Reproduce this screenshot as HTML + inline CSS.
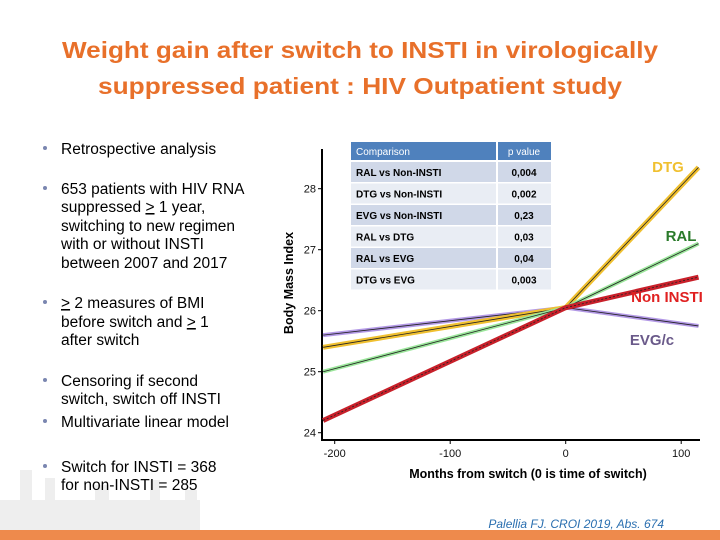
<!DOCTYPE html>
<html><head><meta charset="utf-8"><style>
html,body{margin:0;padding:0;background:#fff;}
svg{display:block;font-family:"Liberation Sans",sans-serif;}
</style></head><body>
<svg width="720" height="540" viewBox="0 0 720 540">
<rect x="0" y="0" width="720" height="540" fill="#fff"/>
<g fill="#eeeeee">
<rect x="0" y="500" width="200" height="30"/><rect x="20" y="470" width="12" height="60"/><rect x="45" y="478" width="10" height="52"/><rect x="95" y="485" width="14" height="45"/><rect x="150" y="480" width="10" height="50"/><rect x="185" y="490" width="12" height="40"/>
</g>
<rect x="0" y="530" width="720" height="10" fill="#ee8a4c"/>
<g fill="#e8702a" font-weight="bold" font-size="23" text-anchor="middle">
<text x="360" y="58" textLength="596" lengthAdjust="spacingAndGlyphs">Weight gain after switch to INSTI in virologically</text>
<text x="360" y="94" textLength="524" lengthAdjust="spacingAndGlyphs">suppressed patient : HIV Outpatient study</text>
</g>
<g font-size="15.5" fill="#000">
<g fill="#7a86b0"><circle cx="45" cy="148" r="2"/><circle cx="45" cy="188" r="2"/><circle cx="45" cy="302" r="2"/><circle cx="45" cy="380" r="2"/><circle cx="45" cy="421" r="2"/><circle cx="45" cy="466" r="2"/></g>
<text x="61" y="154">Retrospective analysis</text>
<text x="61" y="194">653 patients with HIV RNA</text>
<text x="61" y="212">suppressed <tspan text-decoration="underline">&gt;</tspan> 1 year,</text>
<text x="61" y="231">switching to new regimen</text>
<text x="61" y="249">with or without INSTI</text>
<text x="61" y="268">between 2007 and 2017</text>
<text x="61" y="308"><tspan text-decoration="underline">&gt;</tspan> 2 measures of BMI</text>
<text x="61" y="327">before switch and <tspan text-decoration="underline">&gt;</tspan> 1</text>
<text x="61" y="345">after switch</text>
<text x="61" y="386">Censoring if second</text>
<text x="61" y="404">switch, switch off INSTI</text>
<text x="61" y="427">Multivariate linear model</text>
<text x="61" y="472">Switch for INSTI = 368</text>
<text x="61" y="490">for non-INSTI = 285</text>
</g>
<g id="chart"></g>
<text x="664" y="528" font-size="12" font-style="italic" fill="#2a6fb0" text-anchor="end">Palellia FJ. CROI 2019, Abs. 674</text>
</svg>
<script>
const xTicks=[-200,-100,0,100];
const yTicks=[24,25,26,27,28];
const monthsPts=[-210,0,115];
const seriesNames=['EVG/c','DTG','RAL','Non INSTI'];
const evgVals=[25.6,26.05,25.75];
const dtgVals=[25.4,26.05,28.35];
const ralVals=[25.0,26.05,27.1];
const nonVals=[24.2,26.05,26.55];
const compLabels=['RAL vs Non-INSTI','DTG vs Non-INSTI','EVG vs Non-INSTI','RAL vs DTG','RAL vs EVG','DTG vs EVG'];
const pValues=['0,004','0,002','0,23','0,03','0,04','0,003'];

const NS='http://www.w3.org/2000/svg';
const g=document.getElementById('chart');
function X(v){return 565.7+(v/100)*115.5;}
function Y(v){return 310.7-(v-26)*61;}
function mk(t,a,p){const e=document.createElementNS(NS,t);for(const k in a)e.setAttribute(k,a[k]);(p||g).appendChild(e);return e;}
let ax=mk('line',{x1:322,y1:Y(28.65),x2:322,y2:440,stroke:'#000','stroke-width':2});


let bx=mk('line',{x1:321,y1:440,x2:700,y2:440,stroke:'#000','stroke-width':2});


yTicks.forEach(t=>{
 mk('line',{x1:318,x2:322,y1:Y(t),y2:Y(t),stroke:'#000'});
 const tx=mk('text',{x:316,y:Y(t)+4,'font-size':11,'text-anchor':'end',fill:'#111'});tx.textContent=t;
 
 
});
xTicks.forEach(t=>{
 mk('line',{x1:X(t),x2:X(t),y1:440,y2:444,stroke:'#000'});
 const tx=mk('text',{x:X(t),y:457,'font-size':11,'text-anchor':'middle',fill:'#111'});tx.textContent=t;
 
 
});
let xt=mk('text',{x:528,y:478,'font-size':12.5,'font-weight':'bold','text-anchor':'middle',fill:'#000'});xt.textContent='Months from switch (0 is time of switch)';


let yt=mk('text',{x:0,y:0,'font-size':12.5,'font-weight':'bold','text-anchor':'middle',fill:'#000',transform:'translate(293,283) rotate(-90)'});yt.textContent='Body Mass Index';


const tx0=351,tc=497,tx1=551,hy=142,rh=21.5;
let th=mk('rect',{x:tx0,y:hy,width:tx1-tx0,height:18,fill:'#4f81bd'});


mk('line',{x1:tc,x2:tc,y1:hy,y2:hy+18,stroke:'#fff','stroke-width':2});
let h1=mk('text',{x:356,y:155,'font-size':10,fill:'#fff'});h1.textContent='Comparison';
let h2=mk('text',{x:524,y:155,'font-size':10,fill:'#fff','text-anchor':'middle'});h2.textContent='p value';
compLabels.forEach((c,i)=>{
 const y=hy+20+i*rh;
 const r=mk('rect',{x:tx0,y:y,width:tx1-tx0,height:rh-1.5,fill:i%2?'#e9edf4':'#d0d8e8'});
 
 
 mk('line',{x1:tc,x2:tc,y1:y,y2:y+rh-1.5,stroke:'#fff','stroke-width':2});
 const a=mk('text',{x:356,y:y+14,'font-size':10,fill:'#000','font-weight':'600'});a.textContent=c;
 const b=mk('text',{x:524,y:y+14,'font-size':10,fill:'#000','text-anchor':'middle','font-weight':'bold'});b.textContent=pValues[i];
});
const series=[[evgVals,'#b399e6',4,'evg-line'],[dtgVals,'#f0c030',5,'dtg-line'],[ralVals,'#9be69b',4,'ral-line'],[nonVals,'#c8202a',5,'non-insti-line']];
series.forEach(([vals,col,w,name])=>{
 const d=vals.map((v,i)=>(i?'L':'M')+X(monthsPts[i])+','+Y(v)).join(' ');
 const p=mk('path',{d:d,stroke:col,'stroke-width':w,fill:'none'});
 
 
 mk('path',{d:d,stroke:'#222','stroke-width':0.8,fill:'none','stroke-dasharray':name==='non-insti-line'?'2 2':'none'});
});
const labs=[['DTG',668,172,'#f0c030'],['RAL',681,241,'#2a7a2a'],['Non INSTI',667,302,'#e02020'],['EVG/c',652,345,'#6a5a8a']];
labs.forEach(([t,x,y,c])=>{
 const e=mk('text',{x:x,y:y,'font-size':15,'font-weight':'bold','text-anchor':'middle',fill:c});e.textContent=t;
 
 
});
</script>
</body></html>
